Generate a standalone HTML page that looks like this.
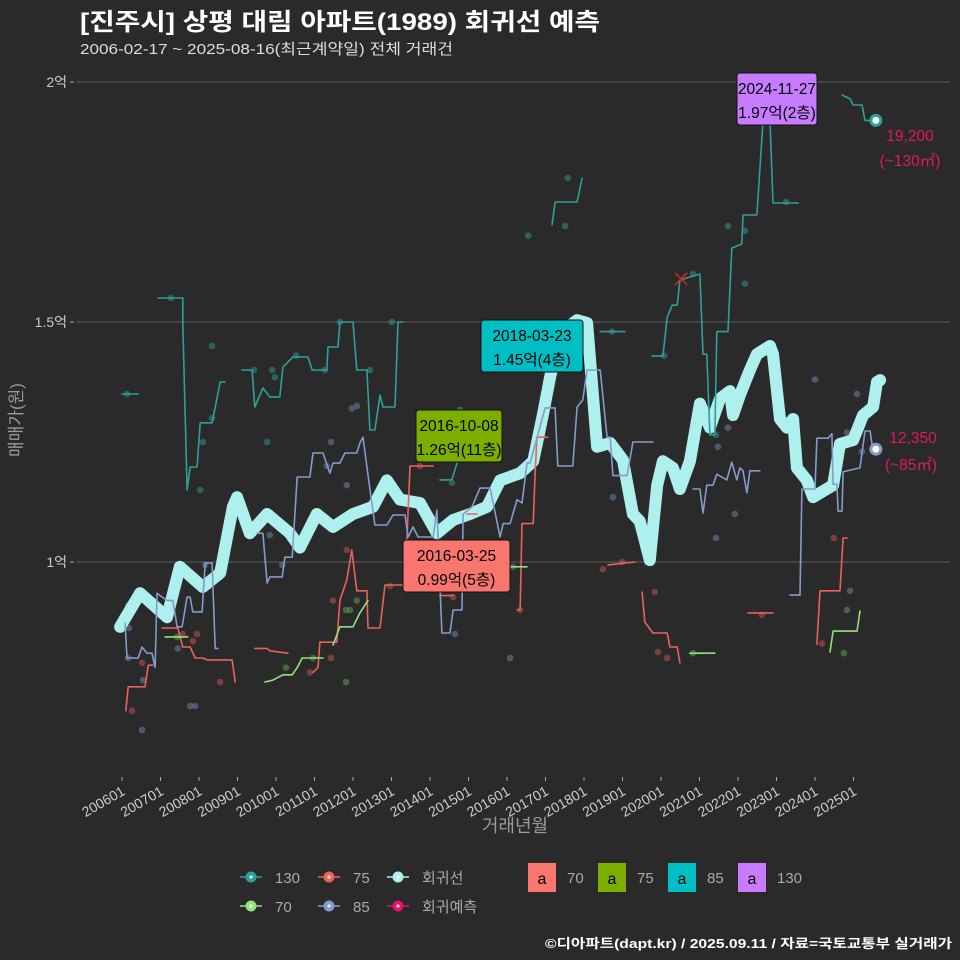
<!DOCTYPE html>
<html><head><meta charset="utf-8">
<style>
html,body{margin:0;padding:0;background:#2a2a2b;}
svg{display:block;font-family:"Liberation Sans","Noto Sans CJK KR",sans-serif;}
</style></head>
<body>
<svg id="chart" width="960" height="960" viewBox="0 0 960 960" xmlns="http://www.w3.org/2000/svg">
<rect x="0" y="0" width="960" height="960" fill="#2a2a2b"/>
<text x="80" y="30" fill="#ffffff" font-size="24" font-weight="bold" textLength="520" lengthAdjust="spacingAndGlyphs">[진주시] 상평 대림 아파트(1989) 회귀선 예측</text>
<text x="80" y="54" fill="#dddddd" font-size="15" textLength="373" lengthAdjust="spacingAndGlyphs">2006-02-17 ~ 2025-08-16(최근계약일) 전체 거래건</text>
<g id="grid"></g>
<g id="yaxis"></g>
<g id="xaxis"></g>
<g id="points"></g>
<g id="lines"></g>
<g id="annot"></g>
<text transform="translate(22,420) rotate(-90)" text-anchor="middle" fill="#9a9a9a" font-size="17">매매가(원)</text>
<text x="515" y="832" text-anchor="middle" fill="#9a9a9a" font-size="18">거래년월</text>
<g id="legend"></g>
<text x="952" y="948" text-anchor="end" fill="#ffffff" font-size="13" font-weight="bold" textLength="407" lengthAdjust="spacingAndGlyphs">©디아파트(dapt.kr) / 2025.09.11 / 자료=국토교통부 실거래가</text>
</svg>
<script>
const yTicks=[1,1.5,2];
const yTickLabels=["1억","1.5억","2억"];
const xTicks=[2006,2007,2008,2009,2010,2011,2012,2013,2014,2015,2016,2017,2018,2019,2020,2021,2022,2023,2024,2025];
const xTickLabels=["200601","200701","200801","200901","201001","201101","201201","201301","201401","201501","201601","201701","201801","201901","202001","202101","202201","202301","202401","202501"];

const regYears=[2005.95,2006.47,2007.17,2007.5,2008.1,2008.55,2008.88,2008.99,2009.32,2009.77,2010.36,2010.62,2011.06,2011.48,2012.0,2012.52,2012.88,2013.22,2013.74,2014.18,2014.6,2015.04,2015.48,2015.82,2016.34,2016.68,2016.94,2017.12,2017.38,2017.82,2018.08,2018.34,2018.68,2019.01,2019.27,2019.45,2019.71,2019.9,2020.05,2020.31,2020.49,2020.75,2021.01,2021.27,2021.53,2021.79,2021.87,2022.05,2022.31,2022.49,2022.83,2022.91,2023.09,2023.27,2023.43,2023.53,2023.79,2023.95,2024.13,2024.47,2024.65,2024.99,2025.25,2025.51,2025.61,2025.69];
const regValues=[0.865,0.935,0.885,0.99,0.948,0.977,1.115,1.135,1.06,1.1,1.06,1.03,1.1,1.073,1.1,1.115,1.17,1.13,1.123,1.06,1.0875,1.1,1.115,1.17,1.185,1.21,1.31,1.385,1.477,1.504,1.498,1.24,1.248,1.2125,1.1,1.085,1.004,1.16,1.21,1.196,1.152,1.21,1.33,1.28,1.34,1.356,1.306,1.348,1.40,1.433,1.45,1.433,1.298,1.28,1.298,1.196,1.17,1.135,1.144,1.16,1.246,1.254,1.306,1.323,1.375,1.379];

const s130Years=[[2006.0,2006.42],[2006.94,2007.58,2007.58,2007.69,2007.77,2007.95,2008.03,2008.34,2008.55,2008.68],[2009.12,2009.38,2009.45,2009.66,2009.84,2010.1,2010.18,2010.44,2010.83,2010.94,2011.32,2011.35,2011.61,2011.66,2012.0,2012.1,2012.36,2012.44,2012.57,2012.7,2012.78,2013.09,2013.17,2013.3],[2014.26,2014.57,2014.7],[2017.17,2017.25,2017.82,2017.95],[2018.42,2019.06],[2019.77,2020.05,2020.16,2020.29,2020.42,2020.49,2021.01,2021.09,2021.19,2021.27,2021.4,2021.45,2021.74,2021.84,2022.1,2022.13,2022.49,2022.65,2022.75,2022.83,2022.91,2023.56],[2024.7,2024.91,2024.99,2025.22,2025.3,2025.51]];
const s130Values=[[1.35,1.35],[1.55,1.55,1.50,1.15,1.198,1.198,1.29,1.29,1.375,1.375],[1.40,1.40,1.323,1.3625,1.344,1.344,1.406,1.427,1.427,1.40,1.40,1.448,1.448,1.50,1.50,1.40,1.40,1.275,1.275,1.348,1.323,1.323,1.50,1.50],[1.171,1.171,1.206],[1.702,1.75,1.75,1.80],[1.48,1.48],[1.429,1.429,1.51,1.535,1.535,1.5875,1.6,1.433,1.433,1.265,1.265,1.48,1.48,1.654,1.6625,1.723,1.723,1.919,1.97,1.919,1.748,1.748],[1.973,1.965,1.952,1.952,1.92,1.92]];

const s75Years=[[2006.1,2006.16,2006.6,2006.68,2006.8],[2007.04,2007.45,2007.58,2007.77,2007.9,2008.1,2008.21,2008.36,2008.86,2008.94],[2009.45,2009.77,2009.84,2010.31],[2010.96,2011.09,2011.14,2011.58,2011.66,2011.84,2011.97,2012.1,2012.36,2012.39,2012.7,2012.83,2013.14,2013.35,2013.48,2014.08],[2014.26,2014.6],[2014.96,2015.22],[2016.26,2016.34,2016.39,2016.68,2016.73,2016.78,2017.06],[2018.62,2019.32],[2019.51,2019.58,2019.79,2020.16,2020.23,2020.42,2020.49],[2022.26,2022.91],[2024.05,2024.13,2024.65,2024.73,2024.83]];
const s75Values=[[0.69,0.74,0.74,0.785,0.785],[0.8625,0.8625,0.823,0.823,0.80,0.80,0.796,0.796,0.796,0.75],[0.82,0.82,0.815,0.81],[0.77,0.78,0.833,0.833,0.92,0.9625,1.025,0.94,0.94,0.8625,0.8625,0.952,0.952,0.952,1.20,1.20],[0.93,0.93],[1.10,1.10],[0.90,0.90,1.08,1.08,1.185,1.26,1.26],[0.994,1.0],[0.9375,0.875,0.852,0.852,0.823,0.823,0.79],[0.894,0.894],[0.829,0.94,0.94,1.05,1.05]];

const s70Years=[[2007.12,2007.71],[2009.71,2009.92,2010.18,2010.42,2010.55,2010.68,2011.22],[2011.48,2011.66,2012.0,2012.18,2012.39],[2016.08,2016.52],[2020.75,2021.4],[2024.39,2024.47,2025.09,2025.17]];
const s70Values=[[0.844,0.844],[0.75,0.754,0.765,0.765,0.78,0.80,0.80],[0.827,0.865,0.865,0.894,0.92],[0.99,0.99],[0.81,0.81],[0.8125,0.856,0.856,0.898]];

const s85Years=[[2006.08,2006.13,2006.42,2006.52,2006.65,2006.78,2006.86,2006.91,2006.99,2007.17,2007.32,2007.43,2007.56,2007.69,2007.77,2007.84,2008.08,2008.16,2008.34,2008.42,2008.49],[2009.51,2009.66,2009.77,2009.84,2010.16,2010.23,2010.42,2010.55,2010.88,2010.96,2011.22,2011.4,2011.48,2011.66,2011.79,2012.1,2012.18,2012.26,2012.36,2012.57,2012.88,2013.04,2013.35,2013.43,2013.56,2013.69,2014.08,2014.18,2014.31,2014.52,2014.6,2014.83,2014.86,2015.09,2015.3,2015.56,2015.82,2015.9,2016.08,2016.26,2016.39,2016.52,2016.6,2016.99,2017.25,2017.32,2017.71,2017.82,2017.97,2018.08,2018.42,2018.6,2018.68,2018.75,2019.12,2019.27,2019.79],[2020.83,2021.01,2021.09,2021.19,2021.35,2021.45,2021.71,2021.84,2021.97,2022.05,2022.13,2022.23,2022.31,2022.57],[2023.35,2023.61,2023.66,2024.0,2024.05,2024.34,2024.44,2024.47,2024.57,2024.6,2024.7,2024.73,2025.17,2025.3,2025.43,2025.51]];
const s85Values=[[0.873,0.80,0.80,0.823,0.81,0.81,0.78,0.935,0.93,0.92,0.92,0.865,0.865,0.927,0.927,0.896,0.896,0.998,0.998,0.82,0.82],[1.06,1.06,0.956,0.969,0.969,1.01,1.01,1.177,1.177,1.227,1.227,1.185,1.206,1.206,1.227,1.227,1.248,1.26,1.198,1.077,1.077,1.098,1.098,1.052,1.073,1.052,1.052,1.108,0.852,0.852,0.90,0.90,1.10,1.115,1.154,1.154,1.052,1.08,1.08,1.13,1.123,1.206,1.206,1.321,1.321,1.20,1.20,1.323,1.3375,1.40,1.40,1.26,1.26,1.18,1.18,1.25,1.25],[1.152,1.152,1.102,1.16,1.16,1.183,1.171,1.208,1.171,1.196,1.19,1.144,1.19,1.19],[0.931,0.931,1.152,1.152,1.258,1.258,1.267,1.162,1.162,1.106,1.106,1.188,1.196,1.273,1.273,1.229]];

const p130=[[2006.13,1.35],[2007.27,1.55],[2008.34,1.45],[2008.34,1.30],[2008.1,1.25],[2008.03,1.15],[2009.43,1.40],[2009.97,1.385],[2009.9,1.40],[2010.52,1.43],[2011.27,1.40],[2011.66,1.50],[2012.44,1.40],[2013.01,1.50],[2009.77,1.25],[2014.57,1.165],[2016.55,1.68],[2017.51,1.70],[2017.58,1.80],[2018.73,1.48],[2020.08,1.43],[2020.83,1.60],[2021.74,1.70],[2022.18,1.69],[2022.18,1.58],[2021.43,1.265],[2023.25,1.75]];
const p75=[[2006.26,0.69],[2006.52,0.79],[2007.58,0.85],[2007.84,0.835],[2007.95,0.85],[2008.55,0.75],[2011.84,1.025],[2011.48,0.92],[2011.43,0.80],[2010.88,0.77],[2012.96,0.95],[2013.74,1.20],[2014.6,0.927],[2016.34,0.90],[2016.91,1.26],[2018.49,0.985],[2018.99,1.0],[2019.84,0.9375],[2019.92,0.8125],[2020.16,0.80],[2022.62,0.89],[2024.18,0.83],[2024.49,1.05]];
const p70=[[2007.43,0.844],[2011.82,0.90],[2011.92,0.90],[2012.1,0.92],[2011.82,0.75],[2010.26,0.78],[2010.96,0.80],[2016.16,0.99],[2020.83,0.81],[2024.83,0.90],[2024.75,0.81]];
const p85=[[2006.18,0.8625],[2006.16,0.80],[2006.55,0.754],[2006.16,0.91],[2006.52,0.65],[2007.77,0.70],[2007.9,0.70],[2007.45,0.82],[2008.16,0.994],[2011.43,1.25],[2011.32,1.20],[2012.1,1.325],[2011.97,1.32],[2011.84,1.16],[2009.84,1.056],[2010.16,0.994],[2014.65,0.85],[2015.35,0.98],[2014.78,1.317],[2016.08,0.80],[2018.75,1.135],[2021.48,1.24],[2021.74,1.28],[2021.92,1.10],[2021.43,1.05],[2024.0,1.38],[2025.09,1.35],[2024.83,1.27],[2024.91,0.94],[2025.22,1.23]];

const end130=[2025.58,1.92];
const end85=[2025.58,1.235];
const crossMark=[2020.52,1.59];

const NS="http://www.w3.org/2000/svg";
function X(t){return 122+(t-2006)*38.5;}
function Y(v){return 562-(v-1)*480;}
function mk(tag,attrs,parent){const e=document.createElementNS(NS,tag);for(const k in attrs)e.setAttribute(k,attrs[k]);parent.appendChild(e);return e;}

const grid=document.getElementById('grid'),yaxis=document.getElementById('yaxis'),xaxis=document.getElementById('xaxis');
yTicks.forEach((v,i)=>{
  const l=mk('line',{x1:76,x2:950,y1:Y(v),y2:Y(v),stroke:'#5c5c5c','stroke-width':1},grid);
  
  
  const t=mk('text',{x:67,y:Y(v)+5,'text-anchor':'end',fill:'#cccccc','font-size':14},yaxis);
  
  
  t.textContent=yTickLabels[i];
  const tk=mk('line',{x1:70,x2:74,y1:Y(v),y2:Y(v),stroke:'#aaaaaa'},yaxis);
  
  
});
xTicks.forEach((t,i)=>{
  const x=X(t);
  const tk=mk('line',{x1:x,x2:x,y1:777,y2:781,stroke:'#aaaaaa'},xaxis);
  
  
  const lb=mk('text',{transform:`translate(${x+4},${794}) rotate(-30)`,'text-anchor':'end',fill:'#cccccc','font-size':14},xaxis);
  
  
  lb.textContent=xTickLabels[i];
});

const pts=document.getElementById('points');
function drawPts(arr,color,name){arr.forEach(p=>{
  const c=mk('circle',{cx:X(p[0]),cy:Y(p[1]),r:3.3,fill:color,opacity:0.55},pts);
  
  
});}
drawPts(p130,'#2f8f8b','point-130');
drawPts(p75,'#c0504b','point-75');
drawPts(p70,'#5a9a50','point-70');
drawPts(p85,'#6a7fa8','point-85');

const lines=document.getElementById('lines');
function drawSeries(ys,vs,color,w,name){ys.forEach((seg,i)=>{
  const d=seg.map((t,j)=>(j?'L':'M')+X(t).toFixed(1)+','+Y(vs[i][j]).toFixed(1)).join(' ');
  const p=mk('path',{d:d,fill:'none',stroke:color,'stroke-width':w,'stroke-linejoin':'round','stroke-linecap':'round'},lines);
  
  
});}
drawSeries([regYears],[regValues],'#aef0ee',12,'regression-line');
drawSeries(s130Years,s130Values,'#2f9f9a',1.6,'line-130');
drawSeries(s75Years,s75Values,'#ea625c',1.6,'line-75');
drawSeries(s70Years,s70Values,'#92e37e',1.6,'line-70');
drawSeries(s85Years,s85Values,'#849cca',1.6,'line-85');

const cx=X(crossMark[0]),cy=Y(crossMark[1]);
const xm=mk('path',{d:`M${cx-6},${cy-6}L${cx+6},${cy+6}M${cx-6},${cy+6}L${cx+6},${cy-6}`,stroke:'#e02020','stroke-width':1.5},lines);



const e1=mk('circle',{cx:X(end130[0]),cy:Y(end130[1]),r:5,fill:'#ffffff',stroke:'#2f9f9a','stroke-width':3},lines);


const e2=mk('circle',{cx:X(end85[0]),cy:Y(end85[1]),r:5,fill:'#ffffff',stroke:'#849cca','stroke-width':3},lines);



const an=document.getElementById('annot');
function box(x,y,w,h,color,l1,l2,name){
  const g=mk('g',{},an);
  
  
  mk('rect',{x:x,y:y,width:w,height:h,rx:3,fill:color,stroke:'#111',"stroke-width":1},g);
  const t1=mk('text',{x:x+w/2,y:y+21,'text-anchor':'middle',fill:'#000','font-size':15.5},g);t1.textContent=l1;
  const t2=mk('text',{x:x+w/2,y:y+45,'text-anchor':'middle',fill:'#000','font-size':15.5},g);t2.textContent=l2;
}
box(403,540,107,52,'#f8766d','2016-03-25','0.99억(5층)','label-2016-03-25');
box(416,410,86,52,'#7cae00','2016-10-08','1.26억(11층)','label-2016-10-08');
box(481,320,102,52,'#00bfc4','2018-03-23','1.45억(4층)','label-2018-03-23');
box(737,73,80,52,'#c77cff','2024-11-27','1.97억(2층)','label-2024-11-27');
function rtxt(x,y,s,name){const t=mk('text',{x:x,y:y,'text-anchor':'middle',fill:'#e0195e','font-size':15.5},an);
  
  
  t.textContent=s;}
rtxt(910,141,'19,200','forecast-value-130');
rtxt(910,166,'(~130㎡)','forecast-area-130');
rtxt(913,443,'12,350','forecast-value-85');
rtxt(911,470,'(~85㎡)','forecast-area-85');

const lg=document.getElementById('legend');
const legItems=[[240,877,'#2f9f9a','130'],[318,877,'#ea625c','75'],[387,877,'#aef0ee','회귀선'],[240,906,'#92e37e','70'],[318,906,'#849cca','85'],[387,906,'#e8106a','회귀예측']];
legItems.forEach(it=>{
  const g=mk('g',{},lg);
  
  
  mk('line',{x1:it[0],x2:it[0]+22,y1:it[1],y2:it[1],stroke:it[2],'stroke-width':1.5},g);
  mk('circle',{cx:it[0]+11,cy:it[1],r:5.5,fill:it[2]},g);
  mk('circle',{cx:it[0]+11,cy:it[1],r:1.6,fill:'#ffffff',opacity:0.8},g);
  const t=mk('text',{x:it[0]+35,y:it[1]+6,fill:'#aaaaaa','font-size':15},g);t.textContent=it[3];
});
const boxItems=[[528,'#f8766d','70'],[598,'#7cae00','75'],[668,'#00bfc4','85'],[738,'#c77cff','130']];
boxItems.forEach(it=>{
  const g=mk('g',{},lg);
  
  
  mk('rect',{x:it[0],y:863,width:28,height:29,fill:it[1]},g);
  const a=mk('text',{x:it[0]+14,y:884,'text-anchor':'middle',fill:'#000','font-size':16},g);a.textContent='a';
  const t=mk('text',{x:it[0]+39,y:883,fill:'#aaaaaa','font-size':15},g);t.textContent=it[2];
});
</script>
</body></html>
